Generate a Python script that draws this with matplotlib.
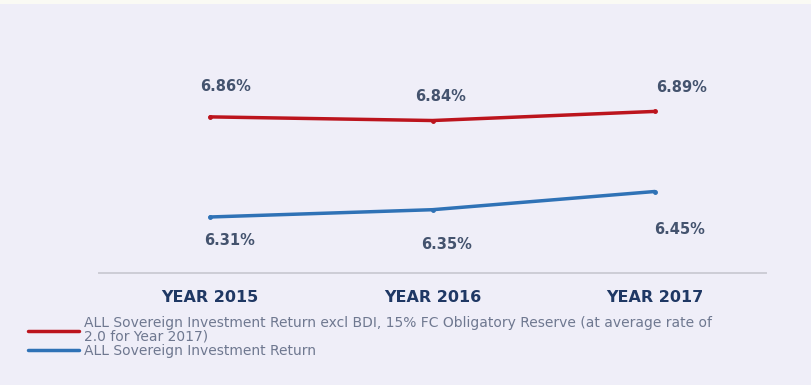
import matplotlib.pyplot as plt
from matplotlib.patches import Rectangle
import numpy as np

years = ['YEAR 2015', 'YEAR 2016', 'YEAR 2017']
excl_bdi = [6.86, 6.84, 6.89]
all_return = [6.31, 6.35, 6.45]
excl_label = ('ALL Sovereign Investment Return excl BDI, 15% FC Obligatory Reserve (at average rate of\n'
              '2.0 for Year 2017)')
all_label = 'ALL Sovereign Investment Return'

bg = '#efeef8'
red = '#bc141d'
blue = '#2f72b6'
lbl_col = '#44536e'

fig = plt.figure(figsize=(8.11, 3.85), dpi=100, facecolor=bg)
# pale band along the top edge
fig.patches.append(Rectangle((0, 1 - 4 / 385), 1, 4 / 385, transform=fig.transFigure,
                             facecolor='#fafaf4', edgecolor='none', zorder=0))
ax = fig.add_axes([99 / 811, 1 - 273.4 / 385, 667 / 811, 218.4 / 385])
ax.set_facecolor(bg)

x = np.arange(len(years))
l1, = ax.plot(x, excl_bdi, color=red, lw=2.5, marker='o', ms=2.5, solid_capstyle='round')
l2, = ax.plot(x, all_return, color=blue, lw=2.5, marker='o', ms=2.5, solid_capstyle='round')

# value labels, offsets in points
red_off = [(11, 22), (6, 17), (19, 17)]
blue_off = [(14, -17), (10, -25), (18, -27)]
for xi, v, off in zip(x, excl_bdi, red_off):
    ax.annotate(f'{v:.2f}%', (xi, v), xytext=off, textcoords='offset points',
                ha='center', va='center', fontsize=10.5, fontweight='bold', color=lbl_col)
for xi, v, off in zip(x, all_return, blue_off):
    ax.annotate(f'{v:.2f}%', (xi, v), xytext=off, textcoords='offset points',
                ha='center', va='center', fontsize=10.5, fontweight='bold', color=lbl_col)

ax.set_xlim(-0.5, 2.5)
ax.set_ylim(6.0, 7.2)
ax.set_yticks([])
ax.set_xticks(x)
ax.set_xticklabels(years, fontsize=11.5, fontweight='bold', color='#1f3864')
ax.tick_params(axis='x', length=0, pad=12)
for s in ['top', 'right', 'left']:
    ax.spines[s].set_visible(False)
ax.spines['bottom'].set_color('#cdcdd6')
ax.spines['bottom'].set_linewidth(1.4)

leg = fig.legend([l1, l2], [excl_label, all_label], loc='upper left',
                 bbox_to_anchor=(28 / 811, 1 - 316 / 385), frameon=False,
                 fontsize=10, labelcolor='#6f7890', handlelength=3.7,
                 handletextpad=0.3, labelspacing=0.0, borderaxespad=0, borderpad=0)
for t in leg.get_texts():
    t.set_linespacing(1.0)
for h in leg.legend_handles:
    h.set_marker('')

fig.savefig('out.png', dpi=100, facecolor=bg)
